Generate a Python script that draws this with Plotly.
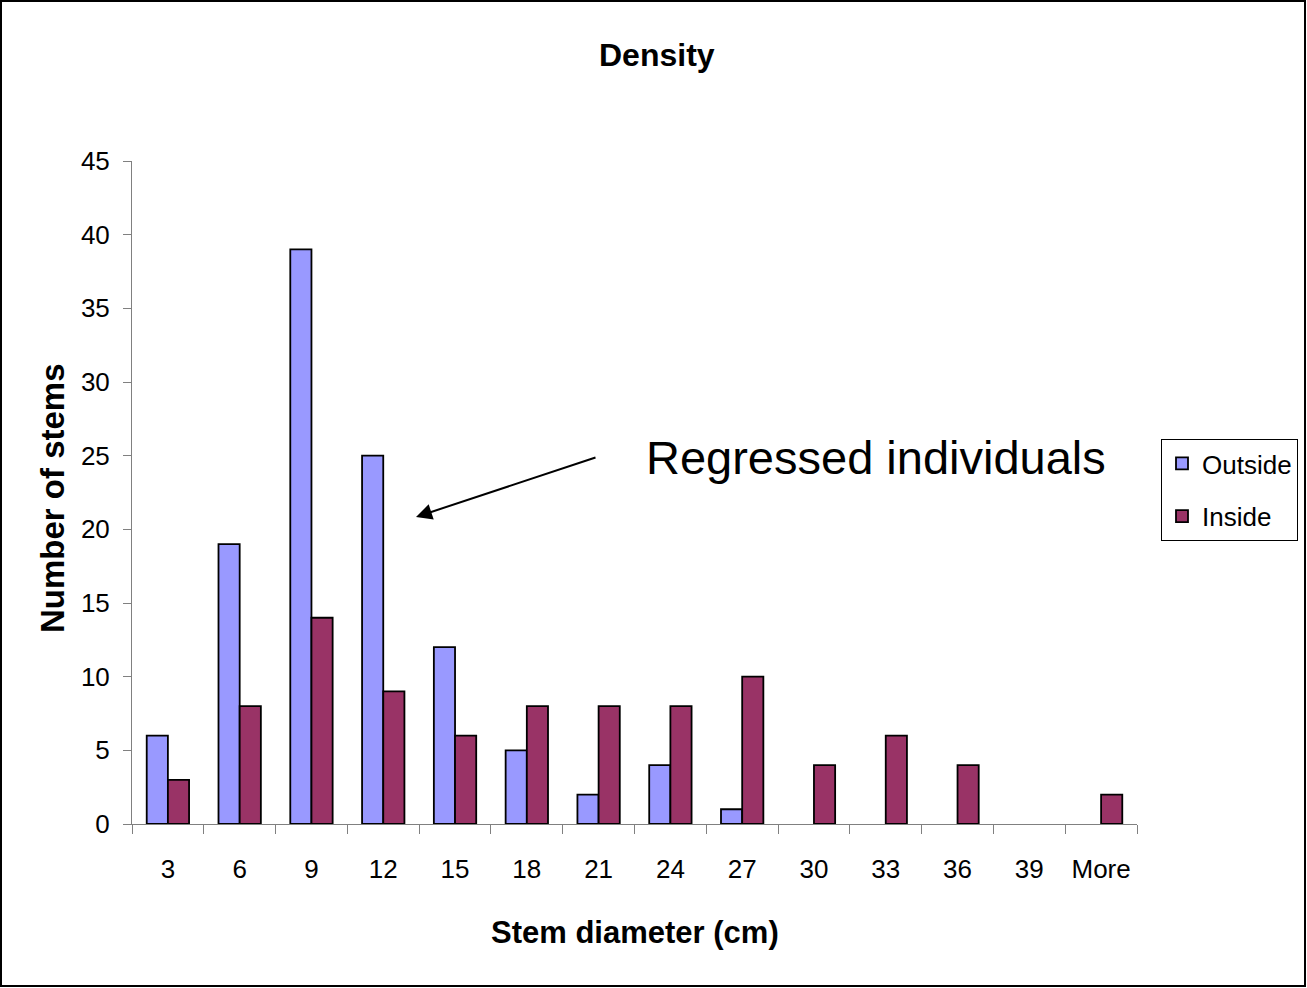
import plotly.graph_objects as go

categories = ["3", "6", "9", "12", "15", "18", "21", "24", "27", "30", "33", "36", "39", "More"]
outside = [6, 19, 39, 25, 12, 5, 2, 4, 1, 0, 0, 0, 0, 0]
inside = [3, 8, 14, 9, 6, 8, 8, 8, 10, 4, 6, 4, 0, 2]

W, H = 1307, 988
L, R, T, B = 132, 1137, 161, 824
pw, ph = R - L, B - T

def px(x):
    return (x - L) / pw

def py(y):
    return (B - y) / ph

FONT = "Liberation Sans, Arial, sans-serif"

def outline(vals):
    return [1.8 if v else 0 for v in vals]

fig = go.Figure()
fig.add_trace(go.Bar(x=categories, y=outside, name="Outside", legendgroup="o",
                     marker=dict(color="#9999FF", line=dict(color="black", width=outline(outside)))))
fig.add_trace(go.Bar(x=categories, y=inside, name="Inside", legendgroup="i",
                     marker=dict(color="#993366", line=dict(color="black", width=outline(inside)))))

fig.update_layout(
    width=W, height=H,
    margin=dict(l=L, r=W - R, t=T, b=H - B, autoexpand=False),
    paper_bgcolor="white", plot_bgcolor="white",
    barmode="group", bargap=0.41, bargroupgap=0,
    font=dict(family=FONT, color="black", size=26),
    showlegend=True,
    legend=dict(x=px(1161), y=py(439), xanchor="left", yanchor="top",
                bordercolor="black", borderwidth=1, bgcolor="white",
                font=dict(size=26), itemwidth=30, traceorder="grouped", tracegroupgap=16),
    xaxis=dict(type="category", tickson="boundaries", ticks="outside", ticklen=9,
               tickcolor="#808080", showline=True, linecolor="#808080", linewidth=1,
               showgrid=False, tickfont=dict(size=26), zeroline=False, ticklabelstandoff=22),
    yaxis=dict(range=[0, 45], dtick=5, ticks="outside", ticklen=8, tickcolor="#808080",
               showline=True, linecolor="#808080", linewidth=1, showgrid=False,
               zeroline=False, tickfont=dict(size=26), ticklabelstandoff=8),
)

fig.add_annotation(text="<b>Density</b>", xref="paper", yref="paper", xanchor="center", yanchor="middle",
                   x=px(657), y=py(55), showarrow=False, font=dict(size=32))
fig.add_annotation(text="<b>Stem diameter (cm)</b>", xref="paper", yref="paper", xanchor="center", yanchor="middle",
                   x=px(635), y=py(932), showarrow=False, font=dict(size=31))
fig.add_annotation(text="<b>Number of stems</b>", xref="paper", yref="paper", xanchor="center", yanchor="middle",
                   x=px(52), y=py(498), showarrow=False, textangle=-90, font=dict(size=33))
fig.add_annotation(text="Regressed individuals", xref="paper", yref="paper", xanchor="center", yanchor="middle",
                   x=px(876), y=py(457), showarrow=False, font=dict(size=47))
fig.add_annotation(text="", xref="paper", yref="paper", axref="pixel", ayref="pixel",
                   x=px(416), y=py(517), ax=597 - 416, ay=457 - 517,
                   showarrow=True, arrowhead=2, arrowsize=1.6, arrowwidth=2, arrowcolor="black")

fig.add_shape(type="rect", xref="paper", yref="paper",
              x0=px(1), x1=px(1305), y0=py(986), y1=py(1),
              line=dict(color="black", width=2), fillcolor="rgba(0,0,0,0)")

fig.write_html("out.html")
